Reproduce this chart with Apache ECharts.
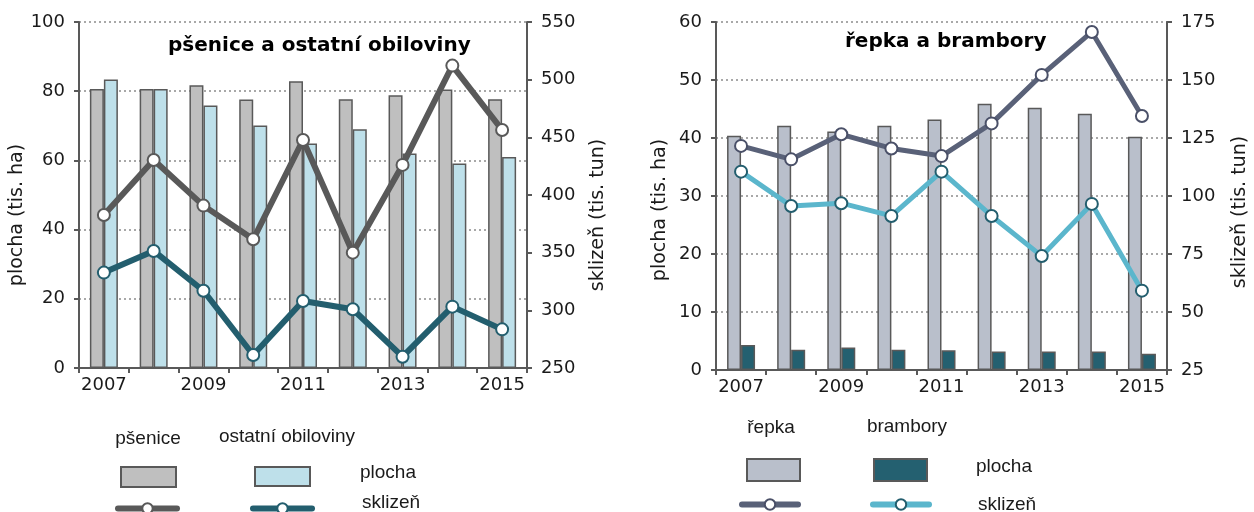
<!DOCTYPE html>
<html>
<head>
<meta charset="utf-8">
<script src="https://cdn.jsdelivr.net/npm/echarts@6/dist/echarts.min.js"></script>
<style>
	html, body { margin: 0; padding: 0; background: #fff; }
	#chart { width: 1254px; height: 512px; }
</style>
</head>
<body>
<div id="chart"></div>
<script>
// roky
const years = ["2007", "2008", "2009", "2010", "2011", "2012", "2013", "2014", "2015"];

// pšenice a ostatní obiloviny
const psenicePlocha = [80.6, 80.6, 81.7, 77.6, 82.9, 77.7, 78.8, 80.5, 77.7];
const obilovinyPlocha = [83.4, 80.6, 75.9, 70.1, 64.9, 69.0, 62.0, 59.1, 61.0];
const psaniceSklizen = [382.7, 430.4, 390.8, 361.6, 447.7, 350.0, 426.1, 512.2, 456.4];
const obilovinySklizen = [332.7, 351.5, 317.0, 261.3, 308.1, 300.9, 259.8, 303.2, 283.5];

// řepka a brambory
const repkaPlocha = [40.4, 42.1, 41.1, 42.1, 43.2, 45.9, 45.2, 44.2, 40.2];
const bramboryPlocha = [4.3, 3.5, 3.9, 3.5, 3.4, 3.2, 3.2, 3.2, 2.8];
const repkaSklizen = [121.6, 115.8, 126.6, 120.5, 117.2, 131.3, 152.2, 170.7, 134.5];
const bramborySklizen = [110.5, 95.7, 96.9, 91.4, 110.5, 91.4, 74.1, 96.6, 59.2];

// rozsahy os [min, max, krok]
const leftAxisA = [0, 100, 20];
const rightAxisA = [250, 550, 50];
const leftAxisB = [0, 60, 10];
const rightAxisB = [25, 175, 25];

const FONT = "'DejaVu Sans', sans-serif";
const LFONT = "'Liberation Sans', Arial, sans-serif";
const AXIS = "#595959";
const TEXT = "#1a1a1a";

let chart = echarts.init(document.getElementById("chart"));

function xAxis(grid) {
	return {
		type: "category",
		gridIndex: grid,
		data: years,
		axisLine: { lineStyle: { color: AXIS, width: 2 } },
		axisTick: { show: true, interval: 0, length: 5, lineStyle: { color: AXIS, width: 2 } },
		axisLabel: { interval: 1, margin: 8, color: TEXT, fontSize: 18, fontFamily: FONT }
	};
}

function yAxis(grid, range, pos, name, gap, shift, split) {
	return {
		type: "value",
		gridIndex: grid,
		position: pos,
		min: range[0],
		max: range[1],
		interval: range[2],
		name: name,
		nameLocation: "middle",
		nameRotate: 90,
		nameGap: gap,
		// posun popisku osy níž
		nameTextStyle: { color: TEXT, fontSize: 19, fontFamily: FONT, padding: [0, shift, 0, 0] },
		axisLine: { show: true, lineStyle: { color: AXIS, width: 2 } },
		axisTick: { show: true, length: 5, lineStyle: { color: AXIS, width: 2 } },
		axisLabel: { margin: 14, color: TEXT, fontSize: 18, fontFamily: FONT },
		splitLine: { show: split, lineStyle: { color: "#8c8c8c", type: [2, 3], width: 1.5 } }
	};
}

function bars(name, data, x, y, color) {
	return {
		name: name,
		type: "bar",
		xAxisIndex: x,
		yAxisIndex: y,
		data: data,
		barWidth: 14,
		barGap: "0%",
		itemStyle: { color: color, borderColor: AXIS, borderWidth: 1.5 }
	};
}

function line(name, data, x, y, color, border, width) {
	return {
		name: name,
		type: "line",
		xAxisIndex: x,
		yAxisIndex: y,
		data: data,
		symbol: "circle",
		symbolSize: 12,
		lineStyle: { color: color, width: width },
		itemStyle: { color: "#fff", borderColor: border, borderWidth: 2 },
		z: 5
	};
}

function legendItem(name, left, top, w, h, isLine) {
	let l = {
		data: [name],
		left: left,
		top: top,
		padding: 0,
		itemWidth: w,
		itemHeight: h,
		selectedMode: false,
		formatter: function() {
			return "";
		}
	};
	if (isLine) {
		l.lineStyle = { width: 6, cap: "round" };
	} else {
		l.icon = "rect";
	}
	return l;
}

function label(text, x, y, align) {
	return {
		type: "text",
		x: x,
		y: y,
		style: {
			text: text,
			fill: TEXT,
			font: "19px " + LFONT,
			align: align || "center",
			verticalAlign: "middle"
		}
	};
}

let option = {
	backgroundColor: "#fff",
	animation: false,
	title: [
		{
			text: "pšenice a ostatní obiloviny",
			left: 168,
			top: 36,
			padding: 0,
			textStyle: { fontSize: 20, fontWeight: "bold", color: "#000", fontFamily: FONT }
		},
		{
			text: "řepka a brambory",
			left: 845,
			top: 32,
			padding: 0,
			textStyle: { fontSize: 20, fontWeight: "bold", color: "#000", fontFamily: FONT }
		}
	],
	grid: [
		{ left: 79, right: 727, top: 22, bottom: 144 },
		{ left: 716, right: 87, top: 22, bottom: 142 }
	],
	xAxis: [xAxis(0), xAxis(1)],
	yAxis: [
		yAxis(0, leftAxisA, "left", "plocha (tis. ha)", 48, 40, true),
		yAxis(0, rightAxisA, "right", "sklizeň (tis. tun)", 62, 40, false),
		yAxis(1, leftAxisB, "left", "plocha (tis. ha)", 46, 28, true),
		yAxis(1, rightAxisB, "right", "sklizeň (tis. tun)", 64, 32, false)
	],
	legend: [
		legendItem("pšenice plocha", 120, 466, 55, 20, false),
		legendItem("ostatní obiloviny plocha", 254, 466, 55, 19, false),
		legendItem("pšenice sklizeň", 115, 502, 59, 13, true),
		legendItem("ostatní obiloviny sklizeň", 250, 502, 59, 13, true),
		legendItem("řepka plocha", 746, 458, 53, 22, false),
		legendItem("brambory plocha", 873, 458, 53, 22, false),
		legendItem("řepka sklizeň", 739, 498, 56, 13, true),
		legendItem("brambory sklizeň", 870, 498, 56, 13, true)
	],
	graphic: [
		label("pšenice", 148, 439),
		label("ostatní obiloviny", 287, 437),
		label("plocha", 360, 473, "left"),
		label("sklizeň", 362, 503, "left"),
		label("řepka", 771, 428),
		label("brambory", 907, 427),
		label("plocha", 976, 467, "left"),
		label("sklizeň", 978, 505, "left")
	],
	series: [
		bars("pšenice plocha", psenicePlocha, 0, 0, "#bfbfbf"),
		bars("ostatní obiloviny plocha", obilovinyPlocha, 0, 0, "#bee0ea"),
		line("pšenice sklizeň", psaniceSklizen, 0, 1, "#595959", "#595959", 6),
		line("ostatní obiloviny sklizeň", obilovinySklizen, 0, 1, "#235e6e", "#235e6e", 6),
		bars("řepka plocha", repkaPlocha, 1, 2, "#b9bfcb"),
		bars("brambory plocha", bramboryPlocha, 1, 2, "#246070"),
		line("řepka sklizeň", repkaSklizen, 1, 3, "#596178", "#4a5068", 5),
		line("brambory sklizeň", bramborySklizen, 1, 3, "#5bb6cc", "#235e6e", 5)
	]
};

chart.setOption(option);
</script>
</body>
</html>
